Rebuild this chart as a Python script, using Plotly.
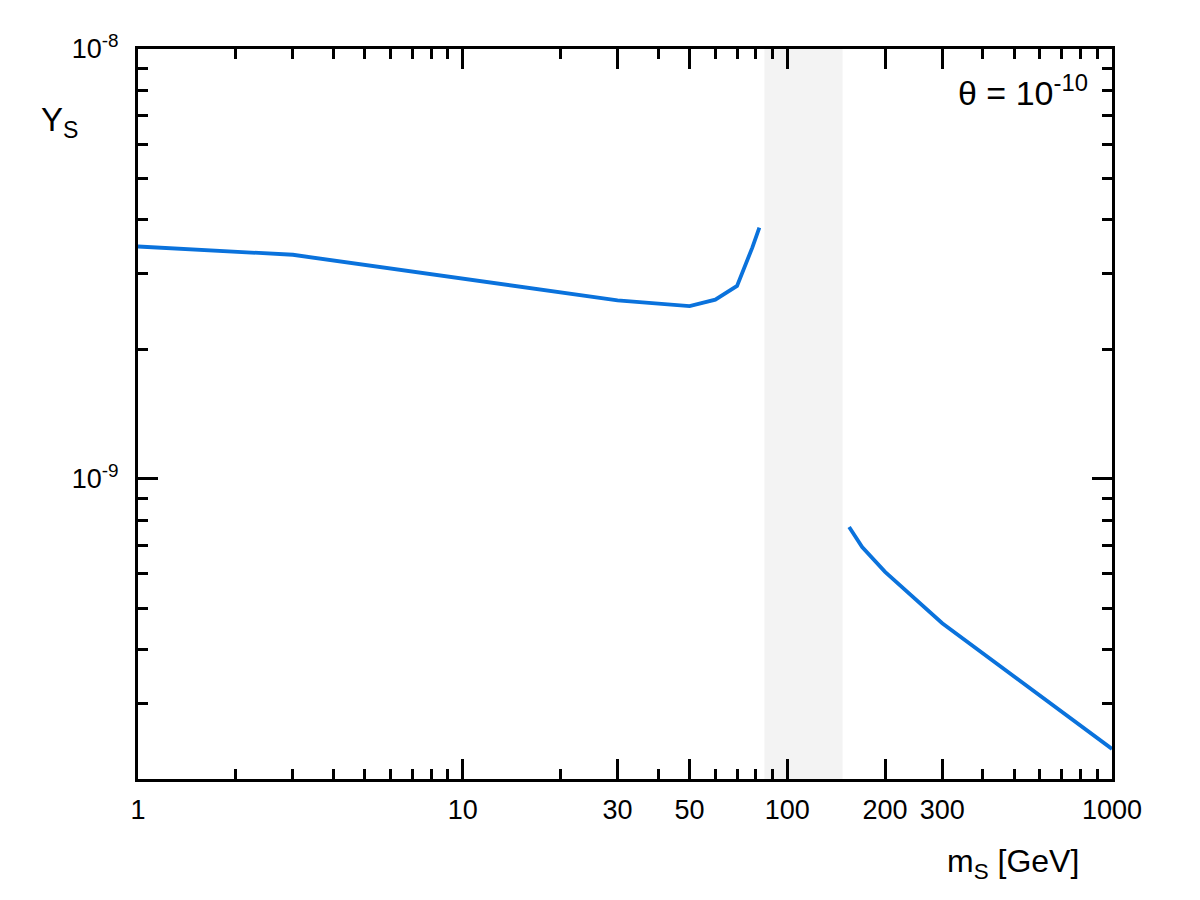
import plotly.graph_objects as go

# Data
m_low = [1, 3, 30, 50, 60, 70, 78, 82]
y_low = [3.47e-9, 3.32e-9, 2.60e-9, 2.52e-9, 2.61e-9, 2.81e-9, 3.45e-9, 3.84e-9]
m_high = [155, 170, 200, 300, 1000]
y_high = [7.72e-10, 6.93e-10, 6.07e-10, 4.61e-10, 2.35e-10]
band = [85, 148]

x_major = [1, 10, 30, 50, 100, 200, 300, 1000]
x_major_text = ["1", "10", "30", "50", "100", "200", "300", "1000"]
x_minor = [2, 3, 4, 5, 6, 7, 8, 9, 20, 40, 60, 70, 80, 90, 400, 500, 600, 700, 800, 900]
y_major = [1e-9, 1e-8]
y_major_text = ["10<sup>-9</sup>", "10<sup>-8</sup>"]
y_minor = [2e-10, 3e-10, 4e-10, 5e-10, 6e-10, 7e-10, 8e-10, 9e-10,
           2e-9, 3e-9, 4e-9, 5e-9, 6e-9, 7e-9, 8e-9, 9e-9]

color = "#0a72dc"
font = "Liberation Sans, Arial, sans-serif"

fig = go.Figure()
fig.add_trace(go.Scatter(x=m_low, y=y_low, mode="lines",
                         line=dict(color=color, width=3.8), showlegend=False))
fig.add_trace(go.Scatter(x=m_high, y=y_high, mode="lines",
                         line=dict(color=color, width=3.8), showlegend=False))

fig.add_shape(type="rect", xref="x", yref="paper", x0=band[0], x1=band[1],
              y0=0, y1=1, fillcolor="#f3f3f3", line=dict(width=0), layer="below")

axis_common = dict(
    showline=True, linecolor="black", linewidth=3, mirror="allticks",
    ticks="inside", ticklen=20, tickwidth=3, tickcolor="black",
    showgrid=False, zeroline=False,
    tickfont=dict(family=font, size=27, color="black"),
)

fig.update_xaxes(type="log", range=[0, 3], tickmode="array",
                 tickvals=x_major, ticktext=x_major_text,
                 ticklabelstandoff=5,
                 minor=dict(tickmode="array", tickvals=x_minor, ticks="inside",
                            ticklen=10, tickwidth=3, tickcolor="black", showgrid=False),
                 **axis_common)
fig.update_yaxes(type="log", range=[-9.699, -8], tickmode="array",
                 tickvals=y_major, ticktext=y_major_text,
                 ticklabelstandoff=11,
                 minor=dict(tickmode="array", tickvals=y_minor, ticks="inside",
                            ticklen=10, tickwidth=3, tickcolor="black", showgrid=False),
                 **axis_common)

fig.add_annotation(text="Y<sub>S</sub>", xref="paper", yref="paper",
                   x=-0.06, y=0.9, xanchor="right", yanchor="middle",
                   showarrow=False, font=dict(family=font, size=33, color="black"))
fig.add_annotation(text="m<sub>S</sub> [GeV]", xref="paper", yref="paper",
                   x=0.968, y=-0.085, xanchor="right", yanchor="top",
                   showarrow=False, font=dict(family=font, size=32, color="black"))
fig.add_annotation(text="θ = 10<sup>-10</sup>", xref="paper", yref="paper",
                   x=0.977, y=0.975, xanchor="right", yanchor="top",
                   showarrow=False, font=dict(family=font, size=34, color="black"))

fig.update_layout(width=1200, height=900, plot_bgcolor="white", paper_bgcolor="white",
                  margin=dict(l=138, r=88, t=49, b=121),
                  font=dict(family=font, color="black"))

fig.write_html("out.html")
